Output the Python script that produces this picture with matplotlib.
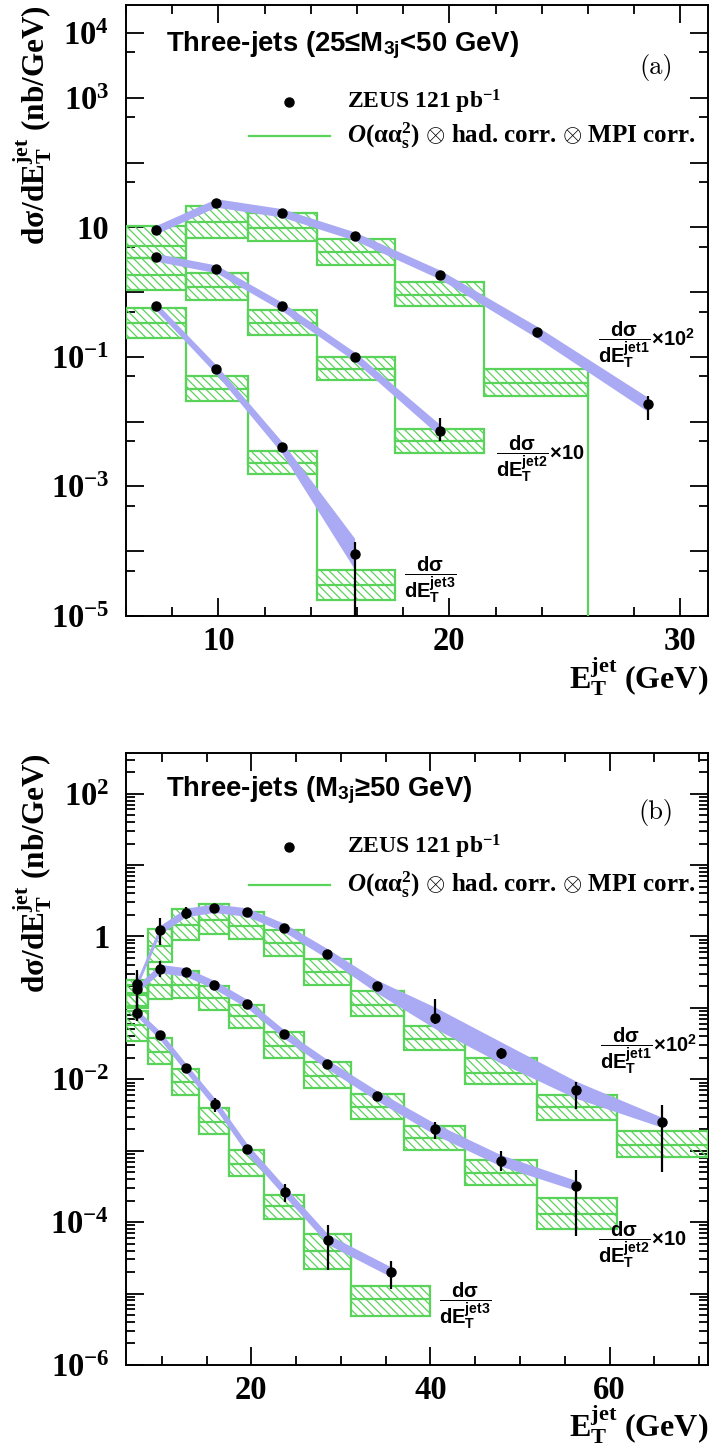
import numpy as np
import matplotlib
matplotlib.use('Agg')
import matplotlib.pyplot as plt
from matplotlib.ticker import FixedLocator, MultipleLocator, FuncFormatter, NullFormatter

# ── panel (a): three-jets, 25 <= M3j < 50 GeV ───────────────────────────────
a_edges_jet1 = [6.0, 8.6, 11.3, 14.25, 17.65, 21.5, 26.0, 31.2]
a_edges_jet2 = [6.0, 8.6, 11.3, 14.25, 17.65, 21.5]
a_edges_jet3 = [6.0, 8.6, 11.3, 14.25, 17.65]

# theory (lower edge, central, upper edge) per bin; last jet1 bin is off-scale
a_th1_lo = [3.3, 6.85, 6.2, 2.65, 0.62, 0.0253, 1e-8]
a_th1_mid = [5.1, 11.9, 9.8, 4.1, 0.91, 0.039, 1e-8]
a_th1_hi = [10.3, 21.6, 16.7, 6.5, 1.45, 0.064, 1e-8]
a_th2_lo = [1.08, 0.76, 0.22, 0.044, 0.00325]
a_th2_mid = [1.86, 1.19, 0.33, 0.064, 0.005]
a_th2_hi = [3.3, 1.95, 0.53, 0.101, 0.0078]
a_th3_lo = [0.194, 0.0212, 0.00156, 1.78e-5]
a_th3_mid = [0.33, 0.032, 0.00228, 2.96e-5]
a_th3_hi = [0.57, 0.0514, 0.0035, 5.2e-5]

# ZEUS data points (value, lower, upper)
a_d1_x = [7.3, 9.9, 12.75, 15.9, 19.6, 23.8, 28.6]
a_d1_y = [9.2, 23.8, 16.7, 7.3, 1.86, 0.24, 0.0184]
a_d1_lo = [8.8, 22.8, 16.0, 7.0, 1.78, 0.225, 0.0107]
a_d1_hi = [9.6, 24.8, 17.4, 7.6, 1.95, 0.255, 0.0253]
a_d2_x = [7.3, 9.9, 12.75, 15.9, 19.6]
a_d2_y = [3.44, 2.28, 0.6, 0.101, 0.0073]
a_d2_lo = [3.3, 2.18, 0.57, 0.095, 0.005]
a_d2_hi = [3.6, 2.38, 0.63, 0.107, 0.0115]
a_d3_x = [7.3, 9.9, 12.75, 15.9]
a_d3_y = [0.6, 0.064, 0.004, 9.1e-5]
a_d3_lo = [0.57, 0.06, 0.0034, 5e-6]
a_d3_hi = [0.63, 0.068, 0.0047, 1.38e-4]

# blue band half width (decades) at each data point
a_band1 = [0.065, 0.065, 0.065, 0.065, 0.07, 0.09, 0.11]
a_band2 = [0.06, 0.06, 0.065, 0.07, 0.09]
a_band3 = [0.06, 0.07, 0.09, 0.24]

# ── panel (b): three-jets, M3j >= 50 GeV ────────────────────────────────────
b_edges_jet1 = [6.0, 8.42, 11.1, 14.15, 17.5, 21.45, 25.9, 31.15, 37.0, 43.9, 51.9, 60.8, 71.0]
b_edges_jet2 = [6.0, 8.42, 11.1, 14.15, 17.5, 21.45, 25.9, 31.15, 37.0, 43.9, 51.9, 60.8]
b_edges_jet3 = [6.0, 8.42, 11.1, 14.15, 17.5, 21.45, 25.9, 31.15, 40.0]

b_th1_lo = [0.105, 0.435, 0.9, 1.08, 0.91, 0.537, 0.212, 0.0759, 0.0255, 0.0087, 0.00268, 8.07e-4]
b_th1_mid = [0.162, 0.74, 1.45, 1.71, 1.38, 0.807, 0.315, 0.111, 0.0366, 0.0124, 0.00403, 1.21e-3]
b_th1_hi = [0.245, 1.27, 2.42, 2.8, 2.21, 1.24, 0.483, 0.171, 0.0562, 0.02, 0.00598, 1.86e-3]
b_th2_lo = [0.1, 0.131, 0.138, 0.0929, 0.0526, 0.0201, 0.0075, 0.00277, 0.00103, 3.32e-4, 7.9e-5]
b_th2_mid = [0.15, 0.207, 0.212, 0.138, 0.0766, 0.0295, 0.01114, 0.00403, 0.00149, 4.83e-4, 1.31e-4]
b_th2_hi = [0.21, 0.354, 0.325, 0.2, 0.111, 0.0458, 0.01746, 0.00618, 0.00223, 7.5e-4, 2.17e-4]
b_th3_lo = [0.0347, 0.0162, 0.00598, 0.00171, 4.4e-4, 1.11e-4, 2.23e-5, 4.83e-6]
b_th3_mid = [0.0575, 0.0241, 0.00918, 0.00249, 6.5e-4, 1.71e-4, 3.9e-5, 8.34e-6]
b_th3_hi = [0.0912, 0.0382, 0.0138, 0.00394, 1.03e-3, 2.43e-4, 6.73e-5, 1.28e-5]

b_d1_x = [7.2, 9.8, 12.67, 15.83, 19.5, 23.7, 28.5, 34.0, 40.5, 47.9, 56.3, 65.9]
b_d1_y = [0.217, 1.24, 2.16, 2.49, 2.19, 1.32, 0.574, 0.2, 0.0726, 0.0236, 0.0071, 0.00249]
b_d1_lo = [0.1, 0.77, 1.77, 2.3, 2.05, 1.24, 0.54, 0.188, 0.0586, 0.019, 0.0039, 0.0005]
b_d1_hi = [0.34, 1.81, 2.6, 2.7, 2.33, 1.4, 0.61, 0.212, 0.133, 0.0277, 0.0092, 0.00434]
b_d2_x = [7.2, 9.8, 12.67, 15.83, 19.5, 23.7, 28.5, 34.07, 40.5, 47.9, 56.3]
b_d2_y = [0.184, 0.354, 0.318, 0.212, 0.115, 0.0425, 0.0162, 0.00586, 0.00201, 7.27e-4, 3.25e-4]
b_d2_lo = [0.065, 0.272, 0.3, 0.2, 0.108, 0.04, 0.0152, 0.0053, 0.00146, 5.26e-4, 6.5e-5]
b_d2_hi = [0.3, 0.448, 0.336, 0.224, 0.122, 0.045, 0.0172, 0.0065, 0.00249, 1.0e-3, 5.43e-4]
b_d3_x = [7.2, 9.8, 12.67, 15.96, 19.55, 23.8, 28.6, 35.6]
b_d3_y = [0.0854, 0.0411, 0.01456, 0.00458, 1.05e-3, 2.62e-4, 5.68e-5, 2.01e-5]
b_d3_lo = [0.065, 0.039, 0.0138, 0.0035, 9.9e-4, 1.94e-4, 2.12e-5, 1.17e-5]
b_d3_hi = [0.11, 0.0433, 0.0154, 0.00556, 1.11e-3, 3.43e-4, 8.99e-5, 2.83e-5]

b_band1 = [0.05, 0.06, 0.06, 0.06, 0.06, 0.06, 0.07, 0.09, 0.15, 0.15, 0.12, 0.07]
b_band2 = [0.05, 0.06, 0.06, 0.06, 0.06, 0.06, 0.065, 0.07, 0.08, 0.08, 0.07]
b_band3 = [0.05, 0.06, 0.06, 0.065, 0.07, 0.07, 0.07, 0.07]

GREEN = '#5ad35a'
BAND = '#aaaaf4'

plt.rcParams['font.family'] = ['Liberation Serif', 'DejaVu Serif']
plt.rcParams['font.weight'] = 'bold'
plt.rcParams['mathtext.fontset'] = 'custom'
plt.rcParams['mathtext.rm'] = 'Liberation Serif:bold'
plt.rcParams['mathtext.bf'] = 'Liberation Serif:bold'
plt.rcParams['mathtext.it'] = 'Liberation Serif:italic:bold'
plt.rcParams['mathtext.sf'] = 'Liberation Sans:bold'
plt.rcParams['hatch.linewidth'] = 0.9
plt.rcParams['axes.linewidth'] = 1.4

SANS = ['Liberation Sans', 'DejaVu Sans']


def draw_theory(ax, edges, lo, mid, hi):
    edges = np.asarray(edges)
    lo, mid, hi = map(np.asarray, (lo, mid, hi))
    ax.bar(edges[:-1], hi - lo, width=np.diff(edges), bottom=lo, align='edge',
           facecolor='none', edgecolor=GREEN, hatch='\\\\\\\\', linewidth=1.6, zorder=3)
    ax.stairs(mid, edges, baseline=None, color=GREEN, linewidth=1.6, zorder=3)


def draw_data(ax, x, y, lo, hi, band):
    x, y, lo, hi, band = map(np.asarray, (x, y, lo, hi, band))
    ax.fill_between(x, y * 10**(-band), y * 10**band, color=BAND, lw=0, zorder=4)
    ax.errorbar(x, y, yerr=[y - lo, hi - y], fmt='o', color='k', ms=6.5,
                elinewidth=1.6, capsize=0, zorder=5)


def log_formatter(labels):
    def fmt(v, pos):
        for k, s in labels.items():
            if abs(np.log10(v) - k) < 1e-3:
                return s
        return ''
    return FuncFormatter(fmt)


def style_panel(ax, xlim, ylim, xmajor, xminor, ylabels, yminor, xlab_y):
    ax.set_yscale('log')
    ax.set_xlim(*xlim)
    ax.set_ylim(*ylim)
    ax.xaxis.set_major_locator(FixedLocator(xmajor))
    ax.xaxis.set_minor_locator(MultipleLocator(xminor))
    lo_dec = int(np.floor(np.log10(ylim[0])))
    hi_dec = int(np.ceil(np.log10(ylim[1])))
    ax.yaxis.set_major_locator(FixedLocator([10.0**k for k in range(lo_dec, hi_dec + 1)]))
    ax.yaxis.set_major_formatter(log_formatter(ylabels))
    ax.yaxis.set_minor_locator(FixedLocator(yminor))
    ax.yaxis.set_minor_formatter(NullFormatter())
    ax.tick_params(which='both', direction='in', top=True, right=True, width=1.3)
    ax.tick_params(which='major', length=13)
    ax.tick_params(which='minor', length=6.5)
    ax.tick_params(axis='y', which='major', pad=12, labelsize=23.5)
    ax.tick_params(axis='x', which='major', pad=7, labelsize=23.5)
    ax.text(-0.16, 1.0, 'dσ/dE$_\\mathrm{T}^\\mathrm{jet}$ (nb/GeV)', rotation=90,
            ha='center', va='top', fontsize=22.5, transform=ax.transAxes)
    ax.text(1.0, xlab_y, 'E$_\\mathrm{T}^\\mathrm{jet}$ (GeV)', ha='right', va='baseline',
            fontsize=23, transform=ax.transAxes)


def draw_legend_and_labels(ax, title, tag, yrow1, yrow2):
    ax.text(0.069, yrow1 + 0.084, title, fontsize=19.8, family=SANS, fontweight='bold',
            transform=ax.transAxes, va='baseline')
    ax.text(0.911, yrow1 + 0.056, tag, fontsize=19, family='cmr10', fontweight='normal',
            ha='center', va='center', transform=ax.transAxes)
    ax.plot([0.28], [yrow1], 'o', color='k', ms=6.5, transform=ax.transAxes)
    ax.plot([0.211, 0.351], [yrow2, yrow2], color=GREEN, lw=1.6, transform=ax.transAxes)
    ax.text(0.38, yrow1, 'ZEUS 121 pb$^{-1}$', fontsize=17, va='center',
            transform=ax.transAxes)
    ax.text(0.38, yrow2,
            '$\\mathit{O}$(αα$_\\mathrm{s}^\\mathrm{2}$) $\\otimes$ had. corr. $\\otimes$ MPI corr.',
            fontsize=18, va='center', transform=ax.transAxes)


def frac_label(ax, x, y, jet, factor):
    s = r'$\dfrac{\mathsf{d\sigma}}{\mathsf{dE_T^{jet%d}}}$' % jet
    if factor:
        s += r'$\mathsf{\times %s}$' % factor
    ax.text(x, y - 0.012, s, fontsize=14.5, family=SANS, ha='left', va='center',
            transform=ax.transAxes)


fig = plt.figure(figsize=(7.11, 14.47), dpi=100)
ax_a = fig.add_axes([126 / 711, (1447 - 616) / 1447, 582 / 711, 611 / 1447])
ax_b = fig.add_axes([126 / 711, (1447 - 1365) / 1447, 582 / 711, 612 / 1447])

# ── panel (a) ────────────────────────────────────────────────────────────────
draw_theory(ax_a, a_edges_jet1, a_th1_lo, a_th1_mid, a_th1_hi)
draw_theory(ax_a, a_edges_jet2, a_th2_lo, a_th2_mid, a_th2_hi)
draw_theory(ax_a, a_edges_jet3, a_th3_lo, a_th3_mid, a_th3_hi)
draw_data(ax_a, a_d1_x, a_d1_y, a_d1_lo, a_d1_hi, a_band1)
draw_data(ax_a, a_d2_x, a_d2_y, a_d2_lo, a_d2_hi, a_band2)
draw_data(ax_a, a_d3_x, a_d3_y, a_d3_lo, a_d3_hi, a_band3)
style_panel(ax_a, (6.0, 31.2), (1e-5, 2.7e4), [10, 20, 30], 2,
            {4: r'$\mathrm{10^{4}}$', 3: r'$\mathrm{10^{3}}$', 1: '10',
             -1: r'$\mathrm{10^{-1}}$', -3: r'$\mathrm{10^{-3}}$', -5: r'$\mathrm{10^{-5}}$'},
            [5 * 10.0**k for k in range(-5, 4)], -0.119)
draw_legend_and_labels(ax_a, 'Three-jets (25≤M$_\\mathsf{3j}$<50 GeV)', '(a)', 0.841, 0.786)
frac_label(ax_a, 0.811, 0.4555, 1, '10^{2}')
frac_label(ax_a, 0.636, 0.269, 2, '10')
frac_label(ax_a, 0.478, 0.071, 3, '')

# ── panel (b) ────────────────────────────────────────────────────────────────
draw_theory(ax_b, b_edges_jet1, b_th1_lo, b_th1_mid, b_th1_hi)
draw_theory(ax_b, b_edges_jet2, b_th2_lo, b_th2_mid, b_th2_hi)
draw_theory(ax_b, b_edges_jet3, b_th3_lo, b_th3_mid, b_th3_hi)
draw_data(ax_b, b_d1_x, b_d1_y, b_d1_lo, b_d1_hi, b_band1)
draw_data(ax_b, b_d2_x, b_d2_y, b_d2_lo, b_d2_hi, b_band2)
draw_data(ax_b, b_d3_x, b_d3_y, b_d3_lo, b_d3_hi, b_band3)
style_panel(ax_b, (6.0, 71.0), (1e-6, 3.7e2), [20, 40, 60], 5,
            {2: r'$\mathrm{10^{2}}$', 0: '1', -2: r'$\mathrm{10^{-2}}$',
             -4: r'$\mathrm{10^{-4}}$', -6: r'$\mathrm{10^{-6}}$'},
            [m * 10.0**k for k in range(-6, 3) for m in range(2, 10)], -0.1165)
draw_legend_and_labels(ax_b, 'Three-jets (M$_\\mathsf{3j}$≥50 GeV)', '(b)', 0.846, 0.784)
frac_label(ax_b, 0.814, 0.526, 1, '10^{2}')
frac_label(ax_b, 0.811, 0.2087, 2, '10')
frac_label(ax_b, 0.538, 0.109, 3, '')

fig.savefig('out.png', dpi=100)
